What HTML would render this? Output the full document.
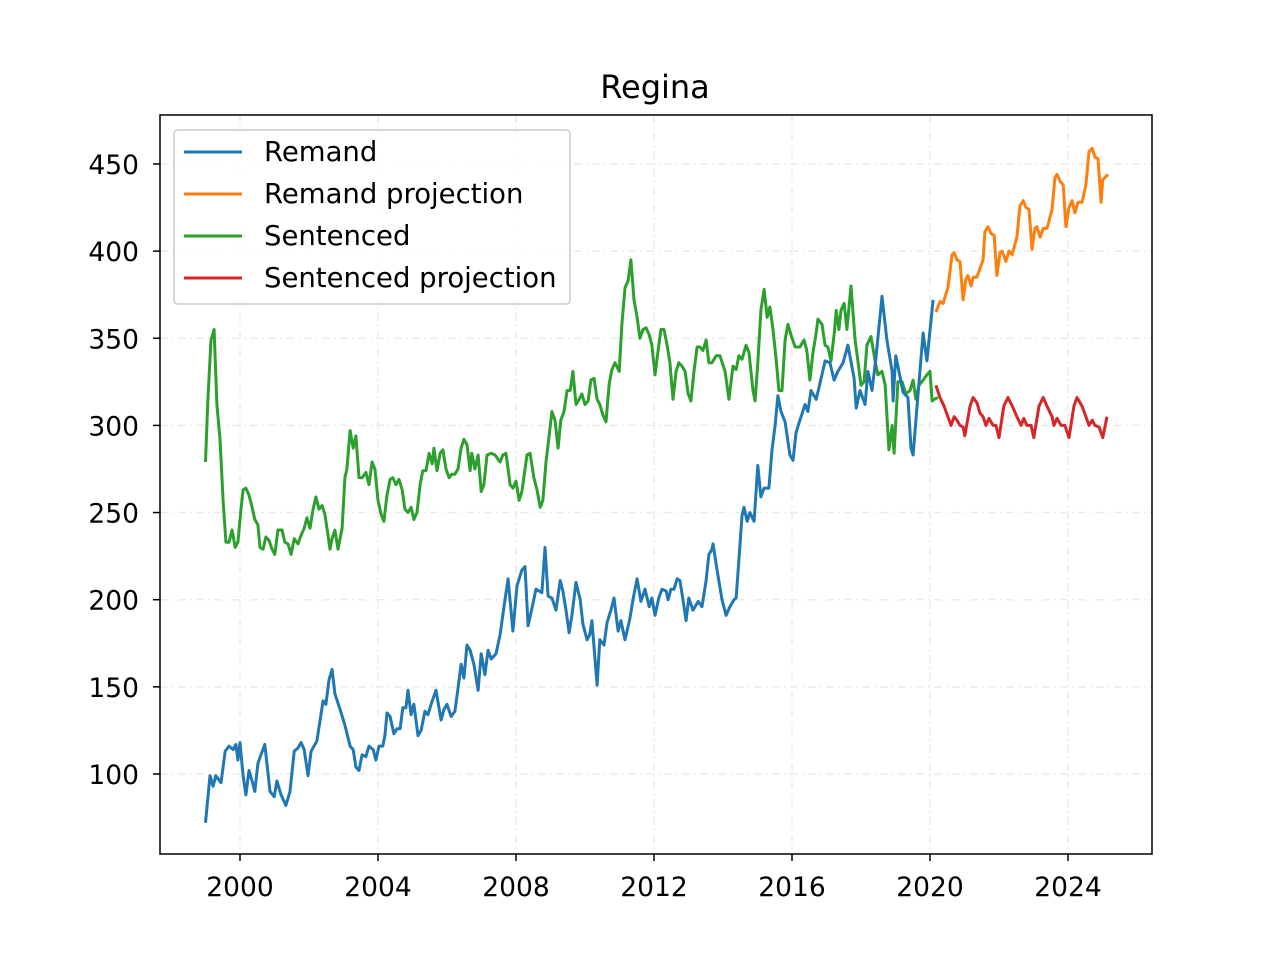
<!DOCTYPE html>
<html><head><meta charset="utf-8"><style>
html,body{margin:0;padding:0;background:#fff;}
svg text{font-family:"DejaVu Sans","Liberation Sans",sans-serif;}
</style></head><body>
<svg id="chart" width="1280" height="960" xmlns="http://www.w3.org/2000/svg">
<rect x="0" y="0" width="1280" height="960" fill="#fff"/>
<g id="grid"></g>
<g id="series"></g>
<rect x="160" y="115" width="992" height="739" fill="none" stroke="#000" stroke-width="1.5"/>
<g id="axes"></g>
<text x="655" y="98" font-size="32" text-anchor="middle">Regina</text>
<g>
<rect x="174" y="130" width="396" height="174" rx="4" fill="#fff" fill-opacity="0.85" stroke="#ccc" stroke-width="1.5"/>
<g><line x1="184" y1="152" x2="242" y2="152" stroke="#1f77b4" stroke-width="3"/><text x="264" y="161" font-size="27.5">Remand</text></g>
<g><line x1="184" y1="194" x2="242" y2="194" stroke="#ff7f0e" stroke-width="3"/><text x="264" y="203" font-size="27.5">Remand projection</text></g>
<g><line x1="184" y1="236" x2="242" y2="236" stroke="#2ca02c" stroke-width="3"/><text x="264" y="245" font-size="27.5">Sentenced</text></g>
<g><line x1="184" y1="278" x2="242" y2="278" stroke="#d62728" stroke-width="3"/><text x="264" y="287" font-size="27.5">Sentenced projection</text></g>
</g>
</svg>
<script>
const xTicks=[2000,2004,2008,2012,2016,2020,2024];
const yTicks=[100,150,200,250,300,350,400,450];

const remandYears=[1999.0,1999.13,1999.22,1999.30,1999.45,1999.57,1999.68,1999.80,1999.88,1999.94,2000.0,2000.09,2000.17,2000.26,2000.35,2000.43,2000.52,2000.61,2000.72,2000.87,2000.99,2001.07,2001.19,2001.33,2001.45,2001.57,2001.68,2001.77,2001.86,2001.97,2002.06,2002.23,2002.41,2002.49,2002.58,2002.67,2002.75,2002.90,2003.04,2003.19,2003.28,2003.36,2003.45,2003.54,2003.65,2003.74,2003.86,2003.94,2004.03,2004.14,2004.20,2004.26,2004.35,2004.46,2004.55,2004.64,2004.72,2004.81,2004.87,2004.96,2005.04,2005.16,2005.25,2005.36,2005.45,2005.54,2005.68,2005.83,2005.91,2006.00,2006.12,2006.23,2006.32,2006.41,2006.49,2006.58,2006.67,2006.78,2006.90,2006.99,2007.10,2007.19,2007.28,2007.42,2007.54,2007.68,2007.77,2007.91,2008.03,2008.17,2008.26,2008.35,2008.46,2008.58,2008.75,2008.84,2008.93,2009.04,2009.16,2009.28,2009.36,2009.45,2009.54,2009.62,2009.74,2009.86,2009.94,2010.06,2010.14,2010.20,2010.35,2010.43,2010.55,2010.64,2010.75,2010.84,2010.96,2011.04,2011.16,2011.30,2011.39,2011.51,2011.62,2011.74,2011.86,2011.94,2012.03,2012.14,2012.23,2012.35,2012.41,2012.49,2012.58,2012.67,2012.75,2012.84,2012.93,2013.01,2013.13,2013.28,2013.39,2013.51,2013.59,2013.68,2013.71,2013.83,2013.97,2014.09,2014.20,2014.32,2014.38,2014.43,2014.55,2014.61,2014.70,2014.78,2014.90,2015.01,2015.10,2015.19,2015.33,2015.42,2015.51,2015.59,2015.68,2015.80,2015.94,2016.03,2016.12,2016.23,2016.38,2016.46,2016.55,2016.70,2016.81,2016.96,2017.10,2017.22,2017.33,2017.48,2017.62,2017.80,2017.86,2017.97,2018.12,2018.20,2018.32,2018.43,2018.61,2018.75,2018.90,2018.93,2019.01,2019.22,2019.36,2019.45,2019.51,2019.62,2019.80,2019.91,2020.09];
const remandValues=[72,99,93,99,95,113,116,114,117,108,118,99,88,102,96,90,106,111,117,90,87,96,88,82,90,113,115,118,114,99,113,119,142,140,154,160,146,137,128,116,114,104,102,111,110,116,114,108,116,116,122,135,133,123,126,126,138,138,148,134,140,122,125,136,134,140,148,131,137,140,133,136,149,163,155,174,171,163,148,169,157,171,166,169,180,200,212,182,208,217,219,185,195,206,204,230,202,201,194,211,205,194,181,191,210,200,186,177,180,188,151,177,174,187,194,201,182,188,177,189,200,212,199,206,196,201,191,201,206,205,200,206,206,212,211,200,188,201,194,199,196,211,226,229,232,217,200,191,196,200,201,214,248,253,245,250,245,277,259,264,264,286,300,317,308,302,283,280,296,303,312,308,320,315,324,337,336,326,331,336,346,327,310,320,312,331,320,338,374,349,331,314,340,319,316,287,283,310,353,337,372];

const remandProjYears=[2020.09,2020.17,2020.29,2020.38,2020.52,2020.64,2020.70,2020.78,2020.87,2020.96,2021.04,2021.10,2021.19,2021.25,2021.36,2021.54,2021.59,2021.68,2021.77,2021.86,2021.94,2022.03,2022.09,2022.20,2022.29,2022.38,2022.52,2022.61,2022.70,2022.78,2022.87,2022.96,2023.04,2023.10,2023.19,2023.28,2023.39,2023.54,2023.62,2023.68,2023.77,2023.86,2023.94,2024.03,2024.12,2024.20,2024.29,2024.41,2024.52,2024.61,2024.70,2024.78,2024.87,2024.96,2025.01,2025.16];
const remandProjValues=[372,365,371,370,379,398,399,395,394,372,384,386,380,385,385,395,411,414,410,409,386,399,400,394,400,398,408,426,429,425,424,401,413,414,408,413,413,424,442,444,440,438,414,425,429,422,428,428,438,457,459,454,453,428,441,444];

const sentencedYears=[1999.0,1999.07,1999.16,1999.25,1999.33,1999.42,1999.51,1999.59,1999.68,1999.77,1999.86,1999.94,2000.03,2000.09,2000.17,2000.26,2000.35,2000.43,2000.52,2000.58,2000.67,2000.75,2000.84,2000.93,2001.01,2001.10,2001.22,2001.30,2001.39,2001.48,2001.57,2001.68,2001.77,2001.86,2001.94,2002.03,2002.12,2002.20,2002.29,2002.38,2002.46,2002.55,2002.61,2002.67,2002.75,2002.84,2002.90,2002.96,2003.04,2003.10,2003.19,2003.28,2003.36,2003.45,2003.54,2003.65,2003.74,2003.83,2003.91,2004.00,2004.09,2004.17,2004.26,2004.35,2004.43,2004.52,2004.61,2004.70,2004.78,2004.87,2004.96,2005.04,2005.13,2005.22,2005.30,2005.39,2005.48,2005.57,2005.62,2005.71,2005.80,2005.88,2005.97,2006.06,2006.14,2006.23,2006.32,2006.41,2006.49,2006.58,2006.67,2006.72,2006.81,2006.90,2006.99,2007.07,2007.16,2007.28,2007.39,2007.54,2007.62,2007.71,2007.83,2007.91,2008.00,2008.09,2008.17,2008.32,2008.41,2008.52,2008.61,2008.70,2008.78,2008.87,2008.96,2009.04,2009.13,2009.22,2009.30,2009.39,2009.48,2009.57,2009.65,2009.74,2009.83,2009.91,2010.00,2010.09,2010.17,2010.26,2010.35,2010.43,2010.52,2010.61,2010.70,2010.78,2010.87,2010.99,2011.07,2011.16,2011.25,2011.33,2011.42,2011.51,2011.59,2011.68,2011.77,2011.86,2011.94,2012.03,2012.12,2012.20,2012.29,2012.38,2012.46,2012.55,2012.64,2012.72,2012.81,2012.90,2012.99,2013.07,2013.16,2013.25,2013.33,2013.42,2013.51,2013.59,2013.68,2013.80,2013.91,2014.06,2014.17,2014.29,2014.38,2014.46,2014.55,2014.67,2014.75,2014.87,2014.93,2015.01,2015.10,2015.19,2015.28,2015.36,2015.45,2015.54,2015.62,2015.71,2015.80,2015.88,2015.97,2016.09,2016.23,2016.35,2016.43,2016.52,2016.61,2016.70,2016.75,2016.87,2016.96,2017.04,2017.13,2017.22,2017.28,2017.36,2017.42,2017.51,2017.59,2017.71,2017.83,2017.91,2018.00,2018.09,2018.17,2018.29,2018.41,2018.49,2018.61,2018.70,2018.81,2018.90,2018.96,2019.07,2019.19,2019.30,2019.42,2019.51,2019.59,2019.68,2019.80,2019.91,2020.00,2020.06,2020.12,2020.23];
const sentencedValues=[279,315,349,355,312,292,257,233,233,240,230,233,252,263,264,260,253,246,243,230,229,236,234,229,226,240,240,233,232,226,235,232,237,241,247,241,252,259,252,254,249,237,229,235,240,229,235,241,270,275,297,287,294,270,270,273,266,279,275,257,249,245,260,269,270,266,269,263,252,250,253,246,250,266,274,274,284,278,287,274,284,286,275,270,272,272,275,287,292,289,274,284,275,283,262,266,283,284,283,279,283,284,266,264,268,257,262,283,284,270,263,253,257,279,294,308,303,287,303,308,320,320,331,312,315,318,312,314,326,327,315,312,306,302,324,332,336,331,358,379,383,395,372,362,350,355,356,352,346,329,343,355,355,346,336,315,331,336,334,331,318,314,331,345,345,343,349,336,336,340,340,331,315,334,332,340,338,346,342,320,314,336,366,378,362,368,355,338,320,320,349,358,352,345,345,349,343,326,342,353,361,358,346,345,337,352,366,355,366,370,355,380,349,337,323,325,346,351,337,329,331,323,286,300,284,325,325,318,320,326,315,323,326,329,331,314,315,316];

const sentencedProjYears=[2020.17,2020.29,2020.41,2020.52,2020.61,2020.70,2020.78,2020.87,2020.96,2021.01,2021.16,2021.25,2021.36,2021.45,2021.54,2021.62,2021.71,2021.83,2021.91,2022.00,2022.14,2022.26,2022.41,2022.52,2022.64,2022.72,2022.81,2022.93,2023.01,2023.16,2023.28,2023.39,2023.54,2023.59,2023.68,2023.80,2023.91,2024.03,2024.17,2024.26,2024.41,2024.52,2024.61,2024.70,2024.78,2024.90,2025.01,2025.13];
const sentencedProjValues=[323,316,311,305,300,305,303,300,299,294,311,316,313,307,305,300,304,300,300,293,311,316,310,305,300,304,300,300,293,311,316,311,305,300,304,300,300,293,311,316,311,305,300,303,300,299,293,305];

const X0=240, PXY=34.5, Y0=774, PXV=1.743;
function xScale(yr){return X0+(yr-2000)*PXY;}
function yScale(v){return Y0-(v-100)*PXV;}
const NS="http://www.w3.org/2000/svg";
const grid=document.getElementById('grid'), axes=document.getElementById('axes'), series=document.getElementById('series');
function mk(tag,attrs,parent){const e=document.createElementNS(NS,tag);for(const k in attrs)e.setAttribute(k,attrs[k]);parent.appendChild(e);return e;}

xTicks.forEach(t=>{
  const x=xScale(t);
  const g=mk('line',{x1:x,y1:115,x2:x,y2:854,stroke:'#ebebeb','stroke-width':1.5,'stroke-dasharray':'8,4,2,4'},grid);
  
  
  const tk=mk('line',{x1:x,y1:854,x2:x,y2:861,stroke:'#000','stroke-width':1.5},axes);
  
  
  const lb=mk('text',{x:x,y:896,'font-size':26.5,'text-anchor':'middle'},axes);
  lb.textContent=t;
  
  
});
yTicks.forEach(t=>{
  const y=yScale(t);
  const g=mk('line',{x1:160,y1:y,x2:1152,y2:y,stroke:'#ebebeb','stroke-width':1.5,'stroke-dasharray':'8,4,2,4'},grid);
  
  
  const tk=mk('line',{x1:153,y1:y,x2:160,y2:y,stroke:'#000','stroke-width':1.5},axes);
  
  
  const lb=mk('text',{x:139,y:y+10,'font-size':26.5,'text-anchor':'end'},axes);
  lb.textContent=t;
  
  
});
function drawLine(xs,vs,color,name){
  const d=xs.map((t,i)=>(i?'L':'M')+xScale(t).toFixed(1)+','+yScale(vs[i]).toFixed(1)).join('');
  const p=mk('path',{d:d,fill:'none',stroke:color,'stroke-width':3,'stroke-linejoin':'round'},series);
  
  
}
drawLine(sentencedYears,sentencedValues,'#2ca02c','sentenced-line');
drawLine(remandYears,remandValues,'#1f77b4','remand-line');
drawLine(remandProjYears.slice(1),remandProjValues.slice(1),'#ff7f0e','remand-projection-line');
drawLine(sentencedProjYears,sentencedProjValues,'#d62728','sentenced-projection-line');
</script>
</body></html>
